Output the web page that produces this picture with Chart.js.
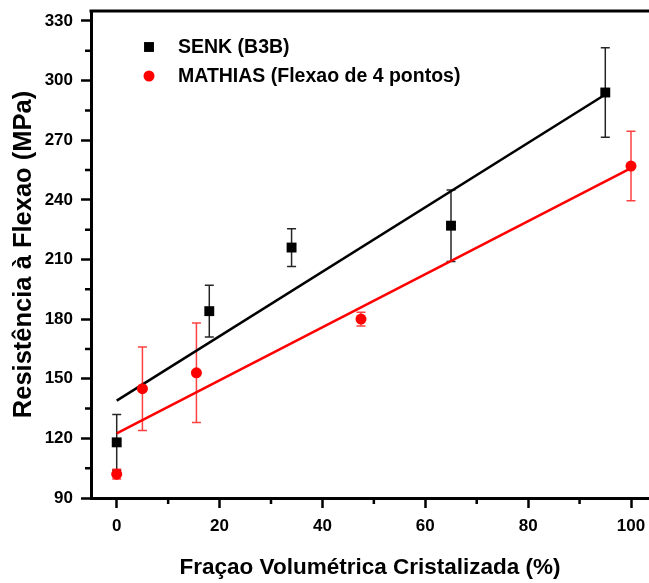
<!DOCTYPE html>
<html>
<head>
<meta charset="utf-8">
<script src="https://cdn.jsdelivr.net/npm/chart.js@4.4.0/dist/chart.umd.min.js"></script>
<style>
  html, body { margin: 0; padding: 0; background: #fff; }
  #wrap { width: 649px; height: 583px; position: relative; }
</style>
</head>
<body>
<div id="wrap"><canvas id="chart"></canvas></div>
<script>
const FONT = "'Liberation Sans', Arial, sans-serif";

const SERIES_NAMES = ['SENK (B3B)', 'MATHIAS (Flexao de 4 pontos)'];
const X_TITLE = 'Fraçao Volumétrica Cristalizada (%)';
const Y_TITLE = 'Resistência à Flexao (MPa)';

// SENK (B3B) - black squares
const senkX = [0, 18, 34, 65, 95];
const senkY = [118, 184, 216, 227, 294];
const senkErr = [14, 13, 9.5, 18, 22.5];

// MATHIAS (4-point bending) - red circles
const mathiasX = [0, 5, 15.5, 47.5, 100];
const mathiasY = [102, 145, 153, 180, 257];
const mathiasErr = [2.5, 21, 25, 3.5, 17.5];

// linear fit lines, end points
const senkFitX = [0, 95];
const senkFitY = [139, 293];
const mathiasFitX = [0, 100];
const mathiasFitY = [122.5, 256];

const toPts = (xs, ys) => xs.map((x, i) => ({ x: x, y: ys[i] }));

// vertical error bars with caps, drawn behind the markers
const errorBars = {
  id: 'errorBars',
  beforeDatasetsDraw(chart) {
    const { ctx, scales: { x, y } } = chart;
    chart.data.datasets.forEach(ds => {
      if (!ds.errors) return;
      ctx.save();
      ctx.strokeStyle = ds.errorColor;
      ctx.lineWidth = 1.5;
      ds.data.forEach((p, j) => {
        const px = x.getPixelForValue(p.x);
        const top = y.getPixelForValue(p.y + ds.errors[j]);
        const bot = y.getPixelForValue(p.y - ds.errors[j]);
        ctx.beginPath();
        ctx.moveTo(px, top); ctx.lineTo(px, bot);
        ctx.moveTo(px - 4.5, top); ctx.lineTo(px + 4.5, top);
        ctx.moveTo(px - 4.5, bot); ctx.lineTo(px + 4.5, bot);
        ctx.stroke();
      });
      ctx.restore();
    });
  }
};

// top frame line + minor ticks between the major ones
const frame = {
  id: 'frame',
  afterDraw(chart) {
    const { ctx, chartArea: a, scales: { x, y } } = chart;
    ctx.save();
    ctx.strokeStyle = '#000';
    ctx.lineWidth = 3;
    ctx.beginPath();
    ctx.moveTo(a.left - 1.5, a.top);
    ctx.lineTo(a.right, a.top);
    ctx.stroke();

    ctx.lineWidth = 2.5;
    ctx.beginPath();
    for (let i = 1; i < x.ticks.length; i++) {
      const px = x.getPixelForValue((x.ticks[i - 1].value + x.ticks[i].value) / 2);
      ctx.moveTo(px, a.bottom); ctx.lineTo(px, a.bottom + 6);
    }
    for (let i = 1; i < y.ticks.length; i++) {
      const py = y.getPixelForValue((y.ticks[i - 1].value + y.ticks[i].value) / 2);
      ctx.moveTo(a.left, py); ctx.lineTo(a.left - 6, py);
    }
    ctx.stroke();
    ctx.restore();
  }
};

// legend inside the plot, upper left
const legendBox = {
  id: 'legendBox',
  afterDraw(chart) {
    const { ctx, chartArea: a } = chart;
    ctx.save();
    ctx.font = 'bold 19.5px ' + FONT;
    ctx.textBaseline = 'middle';
    chart.data.datasets.filter(d => d.legend).forEach((ds, i) => {
      const cx = a.left + 58;
      const cy = a.top + 36 + i * 29;
      ctx.fillStyle = ds.backgroundColor;
      ctx.strokeStyle = ds.borderColor;
      Chart.helpers.drawPoint(ctx, {
        pointStyle: ds.pointStyle, radius: ds.pointRadius, borderWidth: 0
      }, cx, cy);
      ctx.fillStyle = '#000';
      ctx.fillText(ds.label, a.left + 87, cy + 1);
    });
    ctx.restore();
  }
};

const tickFont = { family: FONT, size: 17, weight: 'bold' };

// keep the plot box where the reference has it (no extra label padding)
const noPad = s => { s.paddingLeft = 0; s.paddingRight = 0; s.paddingTop = 0; s.paddingBottom = 0; };

new Chart(document.getElementById('chart').getContext('2d'), {
  type: 'scatter',
  data: {
    datasets: [
      {
        label: 'fit ' + SERIES_NAMES[0],
        type: 'line',
        data: toPts(senkFitX, senkFitY),
        borderColor: '#000',
        borderWidth: 2.5,
        pointRadius: 0,
        order: 3
      },
      {
        label: 'fit ' + SERIES_NAMES[1],
        type: 'line',
        data: toPts(mathiasFitX, mathiasFitY),
        borderColor: '#ff0000',
        borderWidth: 2.5,
        pointRadius: 0,
        order: 4
      },
      {
        label: SERIES_NAMES[0],
        legend: true,
        data: toPts(senkX, senkY),
        errors: senkErr,
        errorColor: 'rgba(0,0,0,0.85)',
        pointStyle: 'rect',
        pointRadius: 7,
        backgroundColor: '#000',
        borderColor: '#000',
        borderWidth: 0,
        order: 1
      },
      {
        label: SERIES_NAMES[1],
        legend: true,
        data: toPts(mathiasX, mathiasY),
        errors: mathiasErr,
        errorColor: 'rgba(255,0,0,0.75)',
        pointStyle: 'circle',
        pointRadius: 5.5,
        backgroundColor: '#ff0000',
        borderColor: '#ff0000',
        borderWidth: 0,
        order: 2
      }
    ]
  },
  options: {
    responsive: true,
    maintainAspectRatio: false,
    animation: false,
    layout: { autoPadding: false, padding: { top: 11, right: 0, bottom: 0, left: 0 } },
    plugins: {
      legend: { display: false },
      tooltip: { enabled: false }
    },
    scales: {
      x: {
        type: 'linear',
        min: -5,
        max: 103.5,
        afterFit(s) { s.height = 85; noPad(s); },
        grid: { drawOnChartArea: false, drawTicks: true, tickLength: 10, tickWidth: 2.5, tickColor: '#000' },
        border: { display: true, color: '#000', width: 3 },
        ticks: { stepSize: 20, includeBounds: false, padding: 8, color: '#000', font: tickFont, maxRotation: 0 },
        title: {
          display: true, text: X_TITLE, color: '#000',
          font: { family: FONT, size: 22.5, weight: 'bold' },
          padding: { top: 0, bottom: 2 }
        }
      },
      y: {
        type: 'linear',
        min: 90,
        max: 335,
        afterFit(s) { s.width = 91; noPad(s); },
        grid: { drawOnChartArea: false, drawTicks: true, tickLength: 10, tickWidth: 2.5, tickColor: '#000' },
        border: { display: true, color: '#000', width: 3 },
        ticks: { stepSize: 30, includeBounds: false, padding: 8, color: '#000', font: tickFont },
        title: {
          display: true, text: Y_TITLE, color: '#000',
          font: { family: FONT, size: 25.5, weight: 'bold' },
          padding: { top: 9, bottom: 0 }
        }
      }
    }
  },
  plugins: [errorBars, frame, legendBox]
});
</script>
</body>
</html>
